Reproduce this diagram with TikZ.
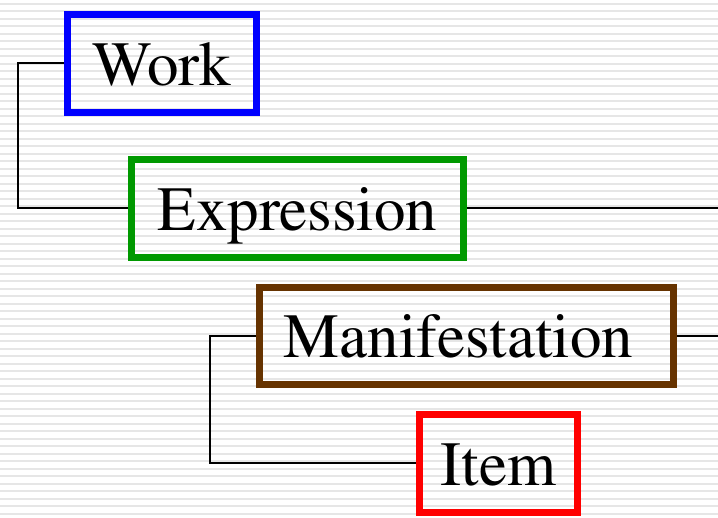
\documentclass[tikz,border=0pt]{standalone}
\usepackage[T1]{fontenc}
\renewcommand{\rmdefault}{ptm}
\usetikzlibrary{positioning}
\definecolor{workblue}{RGB}{0,0,255}
\definecolor{exprgreen}{RGB}{0,153,0}
\definecolor{manifbrown}{RGB}{102,51,0}
\definecolor{itemred}{RGB}{255,0,0}
\definecolor{stripegray}{RGB}{230,230,230}
\tikzset{
  frbr/.style={draw, line width=7pt, text=black,
    font=\fontsize{63}{70}\selectfont, text height=44pt, text depth=0pt, inner sep=0pt},
  link/.style={draw=black, line width=2pt},
  stripe/.style={draw=stripegray, line width=2pt}
}
\begin{document}
\begin{tikzpicture}[x=1pt,y=1pt]
   \useasboundingbox (0,0) rectangle (718,518);
   \fill[white] (0,0) rectangle (718,518);
   \foreach \k in {0,...,68}
     \draw[stripe] (0,{514-7.5*\k}) -- (718,{514-7.5*\k});
   \node [frbr, workblue, minimum width=189pt, minimum height=98pt, text=black] (work) at (162,454.5) {Work};
   \node [frbr, exprgreen, minimum width=332pt, minimum height=98pt, text=black] (expr) at (297.5,309.5) {Expression};
   \node [frbr, manifbrown, minimum width=414pt, minimum height=97pt, text=black] (manif) at (466.5,182) {Manifestation\rule{16pt}{0pt}};
   \node [frbr, itemred, minimum width=158pt, minimum height=98pt, text=black] (item) at (498.5,54.5) {Item};
   \coordinate (expr_out) at (718,309.5);
   \coordinate (manif_out) at (718,182);
    \path[link] 
    (work.west) -- ++(-46,0) |- (expr.west)
    (expr.east) -- (expr_out)
    (manif.east) -- (manif_out)
    (manif.west) -- ++(-46,0) |- (item.west);
\end{tikzpicture}
\end{document}
